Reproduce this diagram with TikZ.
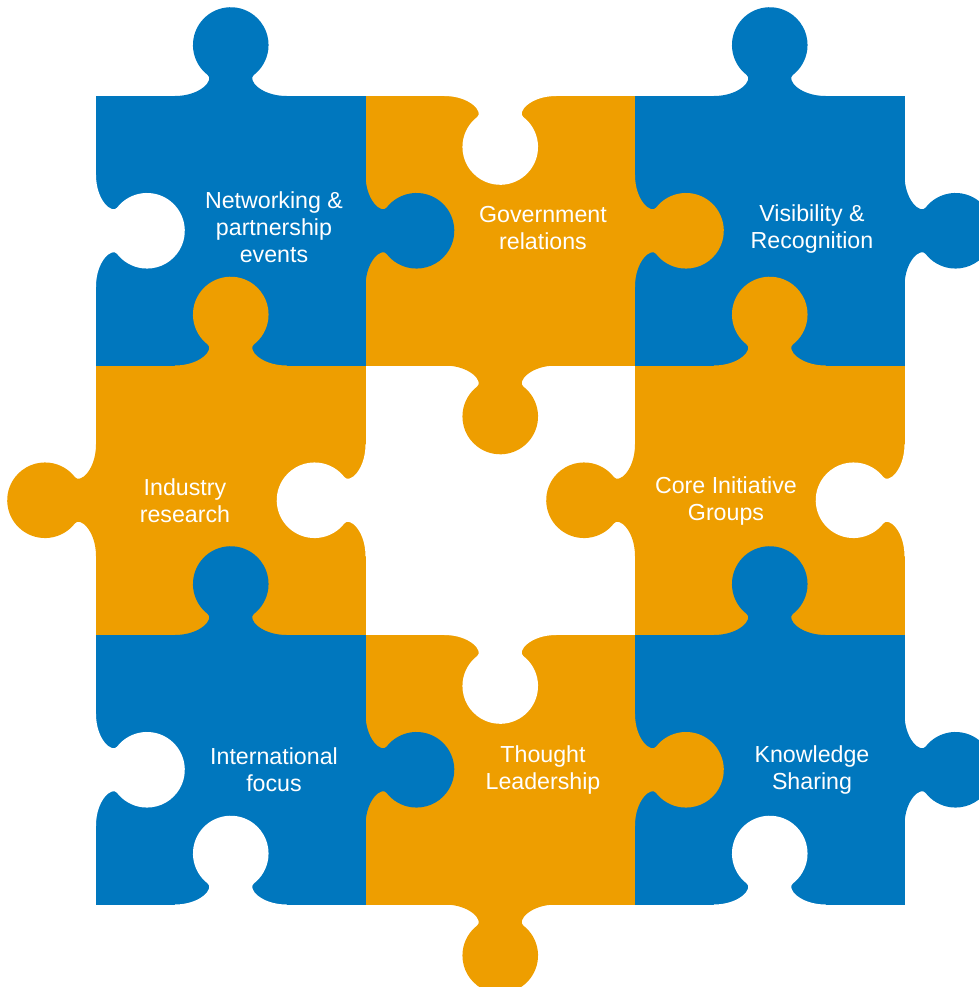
\documentclass[tikz,border=0pt]{standalone}
\usepackage{fontspec}
\setmainfont{Liberation Sans}
\definecolor{puzzleblue}{HTML}{0077BE}
\definecolor{puzzleorange}{HTML}{EE9E00}

\begin{document}
\begin{tikzpicture}[x=0.5pt,y=-0.5pt,
    label node/.style={text=white,align=center,font=\fontsize{11.6}{13.5}\selectfont},
    pics/knob/.style={code={
        \fill[#1] (-56,2) -- (-56,0) .. controls (-30,0) and (-16.6,-16.1) .. (-23,-21)
            arc[start angle=127.5,end angle=412.5,radius=37.8]
            .. controls (16.6,-16.1) and (30,0) .. (56,0) -- (56,2) -- cycle;
    }}]
    \useasboundingbox (0,0) rectangle (979,987);
    \clip (0,0) rectangle (979,987);

    % squares
    \fill[puzzleblue] (96,96) rectangle (365.5,365.5);
    \fill[puzzleorange] (365.5,96) rectangle (635,365.5);
    \fill[puzzleblue] (635,96) rectangle (904.5,365.5);
    \fill[puzzleorange] (96,365.5) rectangle (365.5,635);
    \fill[puzzleorange] (635,365.5) rectangle (904.5,635);
    \fill[puzzleblue] (96,635) rectangle (365.5,904.5);
    \fill[puzzleorange] (365.5,635) rectangle (635,904.5);
    \fill[puzzleblue] (635,635) rectangle (904.5,904.5);

    % knobs
    \pic at (230.75,96) {knob=puzzleblue};
    \pic[rotate=-90] at (365.5,230.75) {knob=puzzleblue};
    \pic[rotate=-90] at (635,230.75) {knob=puzzleorange};
    \pic[rotate=180] at (500.25,365.5) {knob=puzzleorange};
    \pic at (769.75,96) {knob=puzzleblue};
    \pic[rotate=-90] at (904.5,230.75) {knob=puzzleblue};
    \pic at (230.75,365.5) {knob=puzzleorange};
    \pic[rotate=90] at (96,500.25) {knob=puzzleorange};
    \pic at (769.75,365.5) {knob=puzzleorange};
    \pic[rotate=90] at (635,500.25) {knob=puzzleorange};
    \pic at (230.75,635) {knob=puzzleblue};
    \pic[rotate=-90] at (365.5,769.75) {knob=puzzleblue};
    \pic[rotate=-90] at (635,769.75) {knob=puzzleorange};
    \pic[rotate=180] at (500.25,904.5) {knob=puzzleorange};
    \pic at (769.75,635) {knob=puzzleblue};
    \pic[rotate=-90] at (904.5,769.75) {knob=puzzleblue};

    % holes
    \pic[rotate=-90] at (96,230.75) {knob=white};
    \pic[rotate=180] at (500.25,96) {knob=white};
    \pic[rotate=90] at (365.5,500.25) {knob=white};
    \pic[rotate=90] at (904.5,500.25) {knob=white};
    \pic[rotate=-90] at (96,769.75) {knob=white};
    \pic at (230.75,904.5) {knob=white};
    \pic[rotate=180] at (500.25,635) {knob=white};
    \pic at (769.75,904.5) {knob=white};

    % labels
    \node[label node] at (274,227.5) (networking) {Networking \&\\partnership\\events};
    \node[label node] at (543,228.5) (government) {Government\\relations};
    \node[label node] at (812,228.5) (visibility) {Visibility \&\\Recognition};
    \node[label node] at (185,501) (industry) {Industry\\research};
    \node[label node] at (726,501) (core) {Core Initiative\\Groups};
    \node[label node] at (274,770) (international) {International\\focus};
    \node[label node] at (543,770) (thought) {Thought\\Leadership};
    \node[label node] at (812,770) (knowledge) {Knowledge\\Sharing};
\end{tikzpicture}
\end{document}
